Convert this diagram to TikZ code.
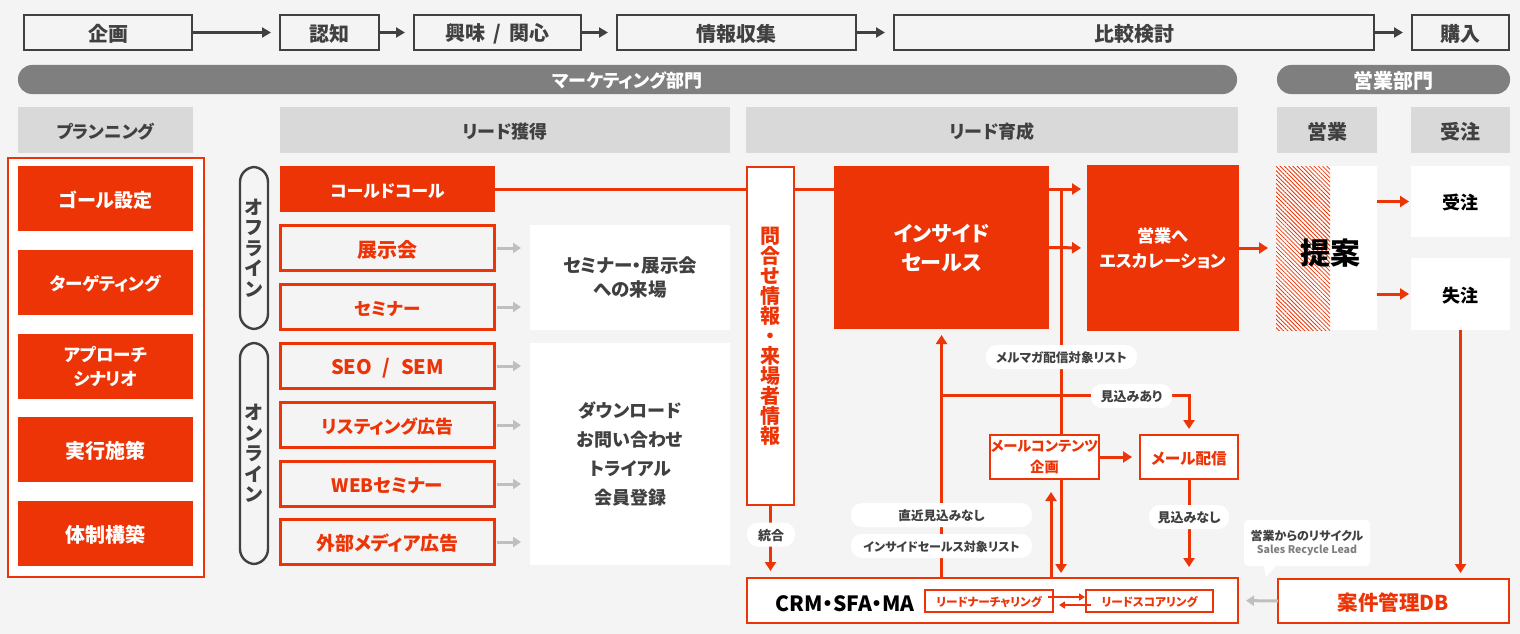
\documentclass[tikz,border=0pt]{standalone}
\usepackage{fontspec}
\setmainfont{Noto Sans CJK JP}[RawFeature={+palt}]
\usetikzlibrary{arrows.meta,patterns.meta}
\definecolor{orangered}{HTML}{EC3407}
\definecolor{ink}{HTML}{404040}
\definecolor{pagegray}{HTML}{F4F4F4}
\definecolor{midgray}{HTML}{7F7F7F}
\definecolor{headgray}{HTML}{D9D9D9}
\definecolor{tipgray}{HTML}{BFBFBF}
\newcommand{\fsz}[2]{\fontsize{#1}{#2}\selectfont\bfseries}
\begin{document}
\begin{tikzpicture}[
x=1pt,
y=-1pt,
base/.style={
inner sep=0,
outer sep=0,
align=center,
execute at begin node={\rule{0pt}{1.02em}},
},
size/.style 2 args={
minimum width=#1,
minimum height=#2,
},
flowbox/.style={
base,
draw=ink,
line width=2.6pt,
text=ink,
font=\fsz{20}{22},
},
deptpill/.style={
base,
fill=midgray,
text=white,
rounded corners=14pt,
font=\fsz{18}{22},
},
headbox/.style={
base,
fill=headgray,
text=ink,
font=\fsz{18}{22},
},
solidbox/.style={
base,
fill=orangered,
text=white,
font=\fsz{17.5}{24},
},
linebox/.style={
base,
draw=orangered,
line width=2.8pt,
text=orangered,
font=\fsz{18}{22},
},
whitebox/.style={
base,
fill=white,
text=ink,
font=\fsz{18}{24},
},
sidepill/.style={
base,
draw=ink,
line width=2.4pt,
rounded corners=15pt,
text=ink,
font=\fsz{19}{20.5},
},
tagpill/.style={
base,
fill=white,
text=ink,
rounded corners=11pt,
minimum height=24,
font=\fsz{12.6}{14},
},
darkarrow/.style={
draw=ink,
line width=2.2pt,
-{Triangle[length=9pt,width=10pt]},
shorten >=9pt,
},
redline/.style={
draw=orangered,
line width=3pt,
},
redarrow/.style={
redline,
-{Triangle[length=9pt,width=11pt]},
},
grayarrow/.style={
draw=tipgray,
line width=3pt,
-{Triangle[length=8pt,width=10pt]},
},
]
\useasboundingbox (0,0) rectangle (1520,634);
\fill[pagegray] (0,0) rectangle (1520,634);

% purchase steps
\node[flowbox,size={168}{35}] at (108,32.5) (plan) {企画};
\node[flowbox,size={99}{35}] at (329.5,32.5) (aware) {認知};
\node[flowbox,size={167}{35}] at (497.5,32.5) (interest) {興味\hspace{3.5pt} / \hspace{3.5pt}関心};
\node[flowbox,size={239}{35}] at (736.5,32.5) (collect) {情報収集};
\node[flowbox,size={480}{35}] at (1134,32.5) (compare) {比較検討};
\node[flowbox,size={97}{35}] at (1460.5,32.5) (buy) {購入};
\draw[darkarrow] (plan.east) -- (aware.west);
\draw[darkarrow] (aware.east) -- (interest.west);
\draw[darkarrow] (interest.east) -- (collect.west);
\draw[darkarrow] (collect.east) -- (compare.west);
\draw[darkarrow] (compare.east) -- (buy.west);

\node[deptpill,size={1219}{29}] at (627.5,79.5) (mktg) {マーケティング部門};
\node[deptpill,size={233}{29},font=\fsz{20}{22}] at (1393.5,79.5) (sales) {営業部門};

\node[headbox,size={175}{46},font=\fsz{17.5}{22}] at (105.5,130) (hplan) {プランニング};
\node[headbox,size={450}{46}] at (505,130) (hlead) {リード獲得};
\node[headbox,size={492}{46}] at (992,130) (hgrow) {リード育成};
\node[headbox,size={100}{46},font=\fsz{20}{22}] at (1327,130) (hsales) {営業};
\node[headbox,size={99}{46},font=\fsz{20}{22}] at (1460.5,130) (horder) {受注};

% planning column
\node[base,draw=orangered,fill=white,line width=1.4pt,size={196}{419}] at (106,367.5) (planframe) {};
\node[solidbox,size={175}{65},font=\fsz{19}{24}] at (105.5,198.5) (goal) {ゴール設定};
\node[solidbox,size={175}{65}] at (105.5,282.5) (target) {ターゲティング};
\node[solidbox,size={175}{65}] at (105.5,366.5) (scenario) {アプローチ\\シナリオ};
\node[solidbox,size={175}{65},font=\fsz{20}{24}] at (105.5,449.5) (action) {実行施策};
\node[solidbox,size={175}{65},font=\fsz{20}{24}] at (105.5,533.5) (team) {体制構築};

% lead acquisition
\node[sidepill,size={28}{162}] at (254,248) (offline) {オ\\フ\\ラ\\イ\\ン};
\node[sidepill,size={28}{221}] at (254,453.5) (online) {オ\\ン\\ラ\\イ\\ン};
\node[solidbox,size={215}{46},font=\fsz{17}{22}] at (387.5,189) (coldcall) {コールドコール};
\node[linebox,size={214}{45},font=\fsz{20}{22}] at (387.5,248) (expo) {展示会};
\node[linebox,size={214}{45},font=\fsz{17.5}{22}] at (387.5,307) (seminar) {セミナー};
\node[linebox,size={214}{45},font=\fsz{20}{22}] at (387.5,366) (seo) {SEO\hspace{6pt} / \hspace{6pt}SEM};
\node[linebox,size={214}{45}] at (387.5,425) (listing) {リスティング広告};
\node[linebox,size={214}{45},font=\fsz{18.5}{22}] at (387.5,484) (webinar) {WEBセミナー};
\node[linebox,size={214}{45},font=\fsz{19}{22}] at (387.5,542) (media) {外部メディア広告};
\node[whitebox,size={200}{105},font=\fsz{18.5}{24}] at (630,277.5) (visit) {セミナー・展示会\\への来場};
\node[whitebox,size={200}{222},font=\fsz{18}{29}] at (630,454) (signup) {ダウンロード\\お問い合わせ\\トライアル\\会員登録};
\foreach \from/\to in {expo/visit,seminar/visit,seo/signup,listing/signup,webinar/signup,media/signup}
  \draw[grayarrow,shorten <=2pt,shorten >=9pt] (\from.east) -- (\from.east -| \to.west);

% lead nurturing
\node[linebox,fill=white,size={47}{338},font=\fsz{20}{20}] at (770.5,336) (inquiry) {問\\合\\せ\\情\\報\\・\\来\\場\\者\\情\\報};
\node[solidbox,size={215}{163},font=\fsz{21}{29}] at (941.5,247.5) (insales) {インサイド\\セールス};
\node[solidbox,size={152}{166},font=\fsz{17.2}{25}] at (1163,248) (escal) {営業へ\\エスカレーション};
\node[base,fill=white,size={101}{164}] at (1326.5,248) (proposal) {};
\node[base,pattern={Lines[angle=-45,distance=3pt,line width=0.8pt]},pattern color=orangered,size={54}{164}] at (1303,248) (hatch) {};
\node[base,text=black,font=\fsz{30}{32}] at (1330,251) (proposaltext) {提案};
\node[whitebox,text=black,size={99}{71}] at (1460.5,201.5) (won) {受注};
\node[whitebox,text=black,size={99}{72}] at (1460.5,294) (lost) {失注};
\node[linebox,fill=white,size={109}{44},font=\fsz{14.3}{21}] at (1044.5,457) (content) {メールコンテンツ\\企画};
\node[linebox,fill=white,size={98}{44},font=\fsz{15.6}{21}] at (1189,457) (mail) {メール配信};
\node[linebox,fill=white,size={491}{45}] at (992.5,600.5) (crm) {};
\node[base,text=black,font=\fsz{21}{24}] at (845,601) (crmtext) {CRM・SFA・MA};
\node[linebox,line width=2.2pt,size={128}{22},font=\fsz{11.6}{14}] at (989,601) (nurture) {リードナーチャリング};
\node[linebox,line width=2.2pt,size={127}{22},font=\fsz{11.6}{14}] at (1149.5,601) (scoring) {リードスコアリング};
\node[linebox,fill=white,size={231}{44},font=\fsz{20.5}{22}] at (1393.5,601) (anken) {案件管理DB};

% positions of lines with no box of their own
\coordinate (stock) at (1061,395);
\coordinate (upfoot) at (1051,577);
\coordinate (nurtA) at (1048,597);
\coordinate (nurtB) at (1059,605);
\coordinate (scorA) at (1085,597);
\coordinate (scorB) at (1091,605);
\coordinate (likelypt) at (1189,395);

\draw[redline] (coldcall.east) -- (coldcall.east -| inquiry.west);
\draw[redline] (coldcall.east -| inquiry.east) -- (coldcall.east -| insales.west);
\draw[redarrow,shorten >=6pt] (coldcall.east -| insales.east) -- (coldcall.east -| escal.west);
\draw[redarrow,shorten >=6pt] (insales.east) -- (escal.west);
\draw[redarrow,shorten >=8pt] (escal.east) -- (proposal.west);
\draw[redarrow,shorten >=2pt] (won.west -| proposal.east) -- (won.west);
\draw[redarrow,shorten >=2pt] (lost.west -| proposal.east) -- (lost.west);
\draw[redarrow,shorten >=6pt] (lost.south) -- (anken.north -| lost.south);
\draw[redline] (stock |- coldcall.east) -- (stock |- content.north);
\draw[redarrow,shorten >=5pt] (stock |- content.south) -- (stock |- crm.north);
\draw[redarrow,shorten >=6pt] (insales |- crm.north) -- (insales.south);
\draw[redarrow,shorten >=6pt] (insales |- stock) -- (likelypt) -- (mail.north);
\draw[redarrow,shorten >=13pt] (upfoot) -- (upfoot |- content.south);
\draw[redarrow,shorten >=8pt] (content.east) -- (mail.west);
\draw[redarrow,shorten >=11pt] (mail.south) -- (mail |- crm.north);
\draw[redarrow,shorten >=7pt] (inquiry.south) -- (inquiry |- crm.north);
\draw[draw=orangered,line width=1.5pt,-{Triangle[length=6pt,width=7pt]}] (nurtA) -- (scorA);
\draw[draw=orangered,line width=1.5pt,-{Triangle[length=6pt,width=7pt]}] (scorB) -- (nurtB);
\draw[grayarrow,shorten >=8pt] (anken.west) -- (crm.east);

% labels on the lines
\node[tagpill,minimum width=151] at (1061.5,357) (mailmag) {メルマガ配信対象リスト};
\node[tagpill,minimum width=81,font=\fsz{13}{14}] at (1131.5,396) (likely) {見込みあり};
\node[tagpill,minimum width=181] at (941.5,515) (nolikely) {直近見込みなし};
\node[tagpill,minimum width=181,font=\fsz{12}{14}] at (941.5,546) (islist) {インサイドセールス対象リスト};
\node[tagpill,minimum width=80,font=\fsz{13}{14}] at (1189,517) (unlikely) {見込みなし};
\node[tagpill,minimum width=48,font=\fsz{13}{14}] at (771,534.5) (merge) {統合};
\node[base,fill=white,text=ink,rounded corners=4pt,size={126}{46},font=\fsz{12}{13}] at (1307,543) (recycle) {営業からのリサイクル\\{\color{midgray}\fsz{10.6}{12}Sales Recycle Lead}};
\fill[white] ([xshift=20pt]recycle.south west) -- ([xshift=32pt]recycle.south west) -- ([xshift=22pt,yshift=-11pt]recycle.south west) -- cycle;
\end{tikzpicture}
\end{document}
